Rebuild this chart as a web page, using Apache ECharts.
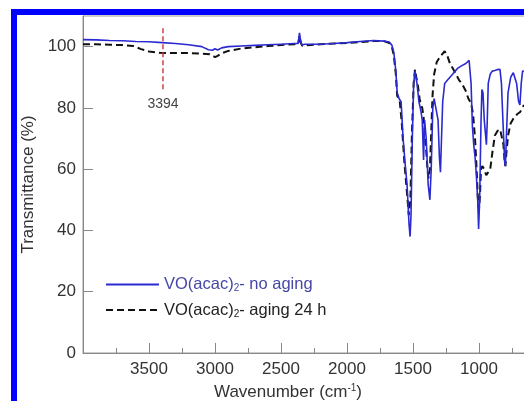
<!DOCTYPE html>
<html>
<head>
<meta charset="utf-8">
<script src="https://cdn.jsdelivr.net/npm/echarts@6/dist/echarts.min.js"></script>
<style>
  html, body { margin: 0; padding: 0; background: #fff; overflow: hidden; }
  /* plot runs past the right edge of the window, like the cropped original */
  #main { width: 545px; height: 401px; }
</style>
</head>
<body>
<div id="main"></div>
<script>
// wavenumber (cm-1) and transmittance (%)
var noAgingWn = [4000, 3900, 3800, 3700, 3600, 3500, 3400, 3300, 3200, 3100, 3050, 3020, 3000, 2980, 2950, 2900,
	2800, 2700, 2600, 2500, 2400, 2370, 2360, 2350, 2340, 2320, 2200, 2100, 2000, 1900, 1800, 1720,
	1680, 1660, 1645, 1630, 1620, 1605, 1590, 1575, 1560, 1545, 1530, 1522, 1515, 1505, 1495, 1485,
	1470, 1455, 1440, 1430, 1420, 1412, 1400, 1385, 1372, 1362, 1350, 1340, 1325, 1310, 1300, 1292,
	1284, 1275, 1260, 1240, 1220, 1200, 1180, 1160, 1130, 1100, 1075, 1068, 1060, 1050, 1040, 1030,
	1020, 1010, 1003, 995, 985, 978, 970, 960, 952, 944, 938, 930, 915, 900, 880, 860,
	841, 830, 818, 805, 800, 793, 780, 760, 740, 725, 715, 700, 690, 680, 670, 660];
var noAgingT = [102.3, 102.2, 102.0, 101.9, 101.7, 101.6, 101.3, 101.0, 100.6, 100.0, 99.0, 98.8, 99.3, 98.9, 99.6, 100.0,
	100.2, 100.4, 100.6, 100.8, 101.0, 101.0, 104.5, 101.5, 100.5, 100.8, 100.8, 101.0, 101.3, 101.7, 102.0, 101.8,
	101.5, 100.5, 98, 92, 85, 83, 82, 70, 62, 55, 42, 38, 45, 70, 88, 92,
	88, 82, 79, 76, 63, 76, 70, 55, 50, 60, 80, 83, 83, 76, 64, 59,
	70, 82, 88, 89, 90, 91, 92, 93, 93.8, 94.5, 95.5, 95.5, 88, 74, 68, 64,
	58, 50, 40.5, 50, 75, 86, 85, 76, 72, 68, 75, 88, 91, 92, 92.2, 92.5,
	92.6, 88, 75, 62, 61, 70, 85, 90, 91.5, 92, 88, 82, 81, 88, 92, 92];

var agingWn = [4000, 3900, 3800, 3700, 3620, 3560, 3500, 3420, 3300, 3200, 3100, 3040, 3000, 2980, 2950, 2900,
	2800, 2700, 2600, 2500, 2400, 2370, 2360, 2350, 2340, 2200, 2100, 2000, 1900, 1800, 1720, 1680,
	1660, 1645, 1630, 1620, 1600, 1585, 1565, 1545, 1532, 1520, 1508, 1495, 1485, 1475, 1462, 1450,
	1440, 1430, 1420, 1410, 1400, 1390, 1382, 1372, 1362, 1352, 1340, 1320, 1290, 1260, 1240, 1220,
	1200, 1180, 1150, 1130, 1100, 1080, 1060, 1045, 1030, 1018, 1008, 1000, 992, 985, 975, 960,
	945, 930, 915, 900, 880, 860, 840, 826, 815, 805, 800, 793, 780, 760, 740, 725,
	710, 690, 670, 660];
var agingT = [100.8, 100.8, 100.6, 100.5, 100.2, 99.2, 98.4, 98.0, 97.9, 97.9, 97.7, 97.5, 96.6, 97.0, 97.8, 98.6,
	99.4, 99.8, 100.2, 100.5, 100.8, 100.8, 103.5, 101.3, 100.3, 100.8, 101.0, 101.2, 101.5, 101.8, 101.8, 101.2,
	100.0, 97, 91, 84, 82, 75, 62, 52, 45, 50, 72, 88, 92.5, 90, 87, 83,
	81, 80, 77, 72, 66, 60, 57, 60, 72, 84, 91, 95, 97, 98.5, 97, 94.5,
	93, 91.5, 89, 88, 85.5, 83, 81.5, 78, 70, 60, 50, 47, 52, 60, 61, 60,
	58, 57.5, 60, 65, 71, 72.5, 73, 72.5, 68, 62, 61, 65, 71, 75, 76.5, 77,
	78, 78.6, 80, 81];

var markWn = 3394;
var markT = [106, 85.5];
var seriesNames = ['VO(acac)2- no aging', 'VO(acac)2- aging 24 h'];
var xTicks = [500, 4000, 500]; // min, max, interval
var yTicks = [0, 110, 20];

function pairs(xs, ys) {
	var out = [];
	for (var i = 0; i < xs.length; i++) out.push([xs[i], ys[i]]);
	return out;
}

var chart = echarts.init(document.getElementById('main'));
var font = 'Liberation Sans, Arial, sans-serif';

var option = {
	animation: false,
	backgroundColor: '#fff',
	textStyle: { fontFamily: font },
	grid: {
		left: 83, top: 16, right: 0, bottom: 48,
		outerBoundsMode: 'none',
		show: true, borderColor: '#999', borderWidth: 1
	},
	legend: {
		data: [
			{ name: seriesNames[0], textStyle: { color: '#4646a6' } },
			{ name: seriesNames[1], textStyle: { color: '#222' } }
		],
		orient: 'vertical',
		left: 100, top: 271,
		itemWidth: 53, itemHeight: 14, itemGap: 8,
		itemStyle: { opacity: 0 },
		formatter: function(n) {
			return n.replace('2-', '{sub|2}-');
		},
		textStyle: {
			fontSize: 16.5, fontFamily: font,
			rich: {
				sub: { fontSize: 10, verticalAlign: 'bottom', padding: [8, 0, 0, 0] }
			}
		}
	},
	xAxis: {
		type: 'value', inverse: true,
		min: xTicks[0], max: xTicks[1], interval: xTicks[2],
		name: 'Wavenumber (cm{sup|-1})', nameLocation: 'middle', nameGap: 27,
		nameTextStyle: {
			fontSize: 17, color: '#333', padding: [0, 52, 0, 0],
			rich: { sup: { fontSize: 10, verticalAlign: 'top', padding: [0, 0, 8, 0] } }
		},
		axisLine: { show: true, lineStyle: { color: '#888' } },
		axisTick: { inside: true, length: 10, lineStyle: { color: '#888' } },
		minorTick: { show: true, splitNumber: 2, length: 5, lineStyle: { color: '#888' } },
		axisLabel: {
			fontSize: 17, color: '#333', margin: 8, showMaxLabel: false, showMinLabel: false,
			formatter: function(v) { return String(v); }
		},
		splitLine: { show: false }
	},
	yAxis: {
		type: 'value',
		min: yTicks[0], max: yTicks[1], interval: yTicks[2],
		name: 'Transmittance (%)', nameLocation: 'middle', nameGap: 46,
		nameTextStyle: { fontSize: 17, color: '#333' },
		axisLine: { show: true, lineStyle: { color: '#888' } },
		axisTick: { inside: true, length: 10, lineStyle: { color: '#888' } },
		axisLabel: { fontSize: 17, color: '#333', margin: 7, showMaxLabel: false },
		splitLine: { show: false }
	},
	graphic: [{
		type: 'rect', silent: true,
		shape: { x: 14, y: 12, width: 620, height: 500 },
		style: { fill: 'none', stroke: '#0000ff', lineWidth: 6 }
	}],
	series: [
		{
			name: seriesNames[1], type: 'line', symbol: 'none',
			data: pairs(agingWn, agingT),
			lineStyle: { color: '#111', width: 2, type: [7, 4] },
			itemStyle: { color: '#111' }
		},
		{
			name: seriesNames[0], type: 'line', symbol: 'none',
			data: pairs(noAgingWn, noAgingT),
			lineStyle: { color: '#2a2ad0', width: 1.6 },
			itemStyle: { color: '#2a2ad0' }
		},
		{
			name: 'mark', type: 'line', symbolSize: 0,
			data: [
				{ value: [markWn, markT[0]] },
				{ value: [markWn, markT[1]], label: { show: true, position: 'bottom', distance: 6, formatter: String(markWn), fontSize: 14, color: '#444' } }
			],
			lineStyle: { color: '#d04040', width: 1.5, type: [5, 3] }
		}
	]
};

chart.setOption(option);
</script>
</body>
</html>
